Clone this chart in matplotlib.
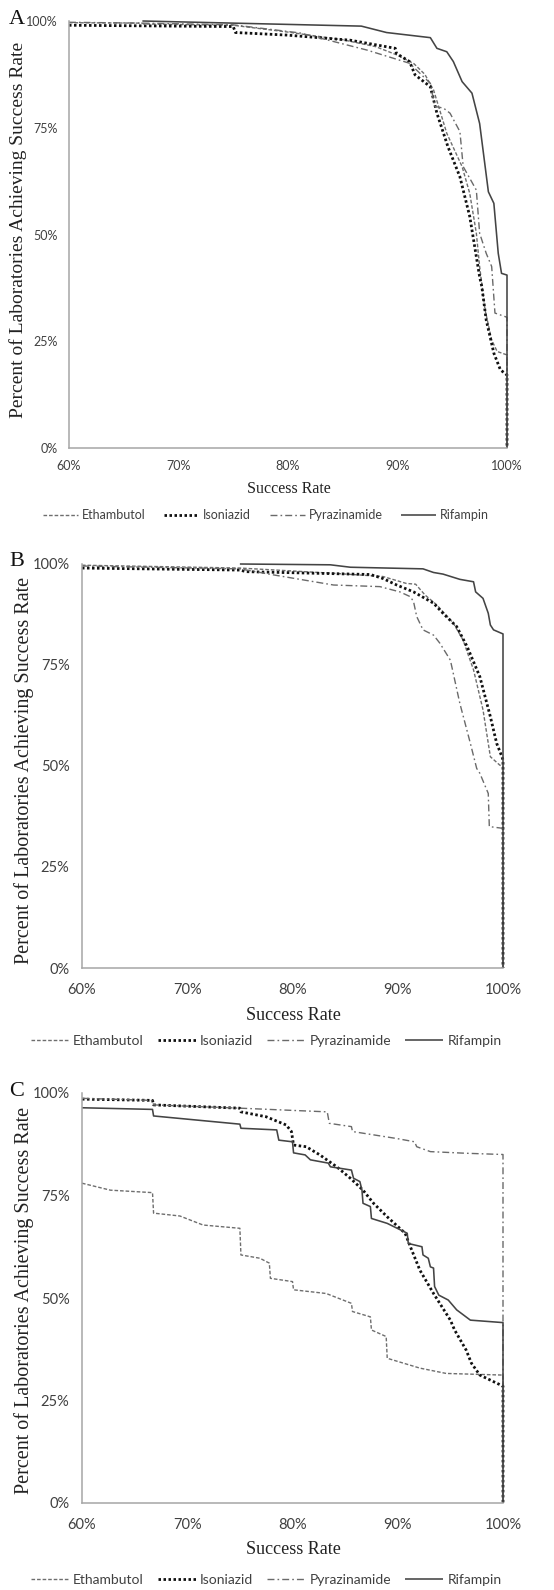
import matplotlib
matplotlib.use("Agg")
import matplotlib.pyplot as plt

# ---------------- data ----------------
drugs = ["Ethambutol", "Isoniazid", "Pyrazinamide", "Rifampin"]
x_ticks = [60, 70, 80, 90, 100]
x_tick_labels = ["60%", "70%", "80%", "90%", "100%"]
y_ticks = [0, 25, 50, 75, 100]
y_tick_labels = ["0%", "25%", "50%", "75%", "100%"]

# Panel A
A_eth_x = [60.0, 66.7, 66.8, 75.0, 80.0, 85.0, 88.0, 90.0, 91.5, 92.5, 93.3, 94.5, 95.9, 96.6, 97.2, 97.5, 98.0, 98.6, 99.1, 100.0, 100.0]
A_eth_y = [99.6, 99.5, 99.3, 99.0, 97.4, 95.6, 94.0, 92.0, 90.0, 87.5, 83.8, 73.7, 65.9, 59.6, 50.3, 42.5, 32.3, 25.3, 22.6, 21.8, 0.0]
A_inh_x = [60.0, 75.0, 75.2, 79.9, 85.7, 89.8, 89.9, 91.1, 91.6, 93.0, 93.6, 94.6, 95.7, 96.6, 97.5, 97.7, 98.1, 98.8, 99.4, 100.0, 100.0]
A_inh_y = [99.0, 98.7, 97.3, 96.7, 95.5, 93.6, 92.4, 90.5, 87.4, 84.6, 78.4, 70.6, 63.5, 54.2, 40.1, 37.8, 30.0, 22.2, 18.3, 17.1, 0.0]
A_pza_x = [60.0, 66.7, 75.0, 81.1, 87.2, 91.1, 93.0, 93.4, 94.2, 94.8, 95.7, 96.0, 97.2, 97.5, 98.1, 98.6, 98.9, 99.8, 100.0, 100.0]
A_pza_y = [99.7, 99.5, 99.1, 97.2, 93.2, 90.1, 85.4, 80.0, 79.6, 78.4, 74.1, 65.9, 60.4, 50.3, 45.6, 42.5, 31.6, 30.8, 30.6, 0.0]
A_rif_x = [66.7, 86.7, 89.0, 93.0, 93.6, 94.5, 95.1, 95.9, 96.8, 97.5, 98.3, 98.8, 99.2, 99.5, 100.0, 100.0]
A_rif_y = [100.0, 98.8, 97.3, 96.1, 93.6, 92.8, 90.5, 85.8, 83.1, 76.0, 60.0, 57.3, 45.6, 40.9, 40.5, 0.0]

# Panel B
B_eth_x = [60.0, 75.0, 83.9, 88.6, 90.8, 91.7, 92.6, 93.7, 95.3, 96.2, 97.2, 98.1, 98.8, 99.7, 100.0, 100.0]
B_eth_y = [99.7, 99.0, 97.7, 96.9, 95.2, 95.0, 92.3, 89.9, 85.3, 81.2, 73.8, 63.9, 52.3, 50.2, 50.0, 0.0]
B_inh_x = [60.0, 75.0, 75.6, 87.4, 88.6, 89.9, 91.5, 93.4, 94.3, 95.6, 96.6, 97.8, 98.8, 99.4, 99.9, 100.0, 100.0]
B_inh_y = [99.0, 98.5, 98.1, 97.4, 96.4, 94.8, 93.1, 90.3, 87.8, 84.5, 79.5, 72.1, 62.2, 55.6, 52.3, 51.5, 0.0]
B_pza_x = [60.0, 75.0, 78.2, 83.9, 88.3, 90.2, 91.2, 91.5, 91.8, 92.4, 93.4, 94.0, 95.0, 95.9, 96.9, 97.5, 97.8, 98.6, 98.7, 99.9, 100.0, 100.0]
B_pza_y = [99.5, 98.8, 97.3, 94.8, 94.4, 93.1, 91.9, 90.7, 87.0, 83.7, 82.4, 80.4, 76.2, 65.5, 55.6, 49.4, 48.2, 43.2, 35.0, 34.6, 34.5, 0.0]
B_rif_x = [75.0, 83.6, 85.5, 92.4, 93.4, 94.3, 95.9, 97.2, 97.4, 98.1, 98.6, 98.8, 99.1, 99.9, 100.0, 100.0]
B_rif_y = [100.0, 99.8, 99.2, 98.8, 97.9, 97.5, 96.2, 95.6, 93.1, 91.5, 87.8, 84.9, 83.7, 82.8, 82.7, 0.0]

# Panel C
C_eth_x = [60.0, 62.7, 66.7, 66.8, 69.3, 71.5, 75.0, 75.1, 76.9, 77.8, 77.9, 80.0, 80.1, 83.2, 84.8, 85.6, 85.7, 87.4, 87.5, 88.9, 89.0, 92.1, 94.6, 100.0, 100.0]
C_eth_y = [78.0, 76.3, 75.7, 70.7, 70.0, 67.8, 67.0, 60.5, 59.7, 58.5, 54.8, 54.0, 52.0, 51.1, 49.5, 48.7, 46.7, 45.4, 42.2, 40.6, 35.3, 32.9, 31.6, 31.2, 0.0]
C_inh_x = [60.0, 66.7, 66.8, 75.0, 75.1, 77.5, 79.4, 79.9, 80.1, 81.3, 82.6, 84.2, 85.5, 86.7, 87.7, 89.0, 90.7, 91.2, 92.1, 93.4, 95.0, 95.4, 96.5, 97.0, 97.8, 99.1, 100.0, 100.0]
C_inh_y = [98.5, 98.2, 97.1, 96.3, 95.4, 94.2, 92.2, 90.6, 87.3, 86.9, 84.9, 82.0, 79.2, 76.3, 73.1, 69.8, 65.8, 62.5, 56.8, 51.1, 44.6, 42.2, 37.3, 34.1, 31.2, 29.6, 28.5, 0.0]
C_pza_x = [60.0, 66.7, 66.8, 75.0, 83.3, 83.5, 85.6, 85.7, 89.9, 91.6, 91.8, 93.1, 96.5, 100.0, 100.0]
C_pza_y = [98.7, 98.2, 97.1, 96.3, 95.4, 92.6, 91.8, 90.6, 88.9, 88.1, 86.9, 85.7, 85.3, 85.0, 0.0]
C_rif_x = [60.0, 66.7, 66.8, 75.0, 75.1, 78.5, 78.7, 80.0, 80.1, 81.2, 81.7, 83.4, 83.6, 85.6, 85.8, 86.4, 86.6, 86.7, 87.4, 87.5, 89.0, 90.9, 91.0, 92.3, 92.4, 92.9, 93.1, 93.4, 93.5, 93.9, 94.8, 95.6, 96.9, 100.0, 100.0]
C_rif_y = [96.4, 96.0, 94.4, 92.4, 91.4, 91.0, 88.5, 88.1, 85.4, 84.9, 83.7, 82.9, 82.0, 81.2, 79.2, 78.4, 76.3, 73.1, 72.3, 69.4, 68.2, 65.8, 63.3, 62.5, 60.5, 59.7, 57.6, 57.3, 52.8, 50.7, 49.5, 47.1, 44.6, 44.0, 0.0]

# ---------------- figure ----------------
W, H = 554, 1590
fig = plt.figure(figsize=(W / 100, H / 100), dpi=100)

SANS = ["Lato", "DejaVu Sans"]
SERIF = ["Liberation Serif", "DejaVu Serif"]

def rect(l, t, r, b):
    return [l / W, 1 - b / H, (r - l) / W, (b - t) / H]

def fx(px):
    return px / W

def fy(py):
    return 1 - py / H

styles = {
    "Ethambutol": dict(color="#6e6e6e", lw=1.0, dashes=(2.6, 1.4)),
    "Isoniazid": dict(color="#111111", lw=2.0, dashes=(0.9, 0.9)),
    "Pyrazinamide": dict(color="#6a6a6a", lw=1.0, dashes=(5.0, 2.2, 1.2, 2.2)),
    "Rifampin": dict(color="#444444", lw=1.15, dashes=None),
}

panels = [
    dict(letter="A", box=(69, 21, 507, 448),
         series=[(A_eth_x, A_eth_y), (A_inh_x, A_inh_y), (A_pza_x, A_pza_y), (A_rif_x, A_rif_y)],
         tick_size=9, ypad=8, xpad=9, xlabel_size=11.5, ylabel_size=14,
         letter_pos=(17, 20), ylabel_pos=(18, 230), xlabel_pos=(289, 489),
         legend_pos=(266, 515), legend_size=9, handlelength=2.8, colspace=1.5),
    dict(letter="B", box=(82, 564, 503, 968),
         series=[(B_eth_x, B_eth_y), (B_inh_x, B_inh_y), (B_pza_x, B_pza_y), (B_rif_x, B_rif_y)],
         tick_size=10.5, ypad=9, xpad=11, xlabel_size=13, ylabel_size=14.5,
         letter_pos=(17, 561), ylabel_pos=(24, 770), xlabel_pos=(293, 1015),
         legend_pos=(266, 1041), legend_size=10, handlelength=2.75, colspace=1.0),
    dict(letter="C", box=(82, 1093, 503, 1503),
         series=[(C_eth_x, C_eth_y), (C_inh_x, C_inh_y), (C_pza_x, C_pza_y), (C_rif_x, C_rif_y)],
         tick_size=10.5, ypad=9, xpad=11, xlabel_size=13, ylabel_size=14.5,
         letter_pos=(17, 1092), ylabel_pos=(24, 1300), xlabel_pos=(293, 1550),
         legend_pos=(266, 1580), legend_size=10, handlelength=2.75, colspace=1.0),
]

for p in panels:
    ax = fig.add_axes(rect(*p["box"]))
    handles = []
    for name, (xs, ys) in zip(drugs, p["series"]):
        st = styles[name]
        line, = ax.plot(xs, ys, color=st["color"], lw=st["lw"], clip_on=False,
                        solid_capstyle="butt", dash_capstyle="butt")
        if st["dashes"] is not None:
            line.set_dashes(st["dashes"])
        handles.append(line)
    ax.set_xlim(60, 100)
    ax.set_ylim(0, 100)
    ax.set_xticks(x_ticks)
    ax.set_xticklabels(x_tick_labels)
    ax.set_yticks(y_ticks)
    ax.set_yticklabels(y_tick_labels)
    for s in ("top", "right"):
        ax.spines[s].set_visible(False)
    for s in ("left", "bottom"):
        ax.spines[s].set_color("#a6a6a6")
        ax.spines[s].set_linewidth(1.1)
    ax.tick_params(axis="y", length=0, pad=p["ypad"], labelsize=p["tick_size"], labelcolor="#404040")
    ax.tick_params(axis="x", length=0, pad=p["xpad"], labelsize=p["tick_size"], labelcolor="#404040")
    for lab in ax.get_xticklabels() + ax.get_yticklabels():
        lab.set_family(SANS)

    fig.text(fx(p["letter_pos"][0]), fy(p["letter_pos"][1]), p["letter"], family=SERIF,
             fontsize=16, ha="center", va="center", color="#111111")
    fig.text(fx(p["ylabel_pos"][0]), fy(p["ylabel_pos"][1]),
             "Percent of Laboratories Achieving Success Rate", family=SERIF,
             fontsize=p["ylabel_size"], rotation=90, ha="center", va="center", color="#222222")
    fig.text(fx(p["xlabel_pos"][0]), fy(p["xlabel_pos"][1]), "Success Rate", family=SERIF,
             fontsize=p["xlabel_size"], ha="center", va="center", color="#222222")

    leg = ax.legend(handles, drugs, loc="center",
                    bbox_to_anchor=(fx(p["legend_pos"][0]), fy(p["legend_pos"][1])),
                    bbox_transform=fig.transFigure, ncol=4, frameon=False,
                    handlelength=p["handlelength"], handletextpad=0.3,
                    columnspacing=p["colspace"], borderpad=0, borderaxespad=0,
                    prop=dict(family=SANS, size=p["legend_size"]))
    for t in leg.get_texts():
        t.set_color("#404040")

fig.savefig("out.png", dpi=100)
